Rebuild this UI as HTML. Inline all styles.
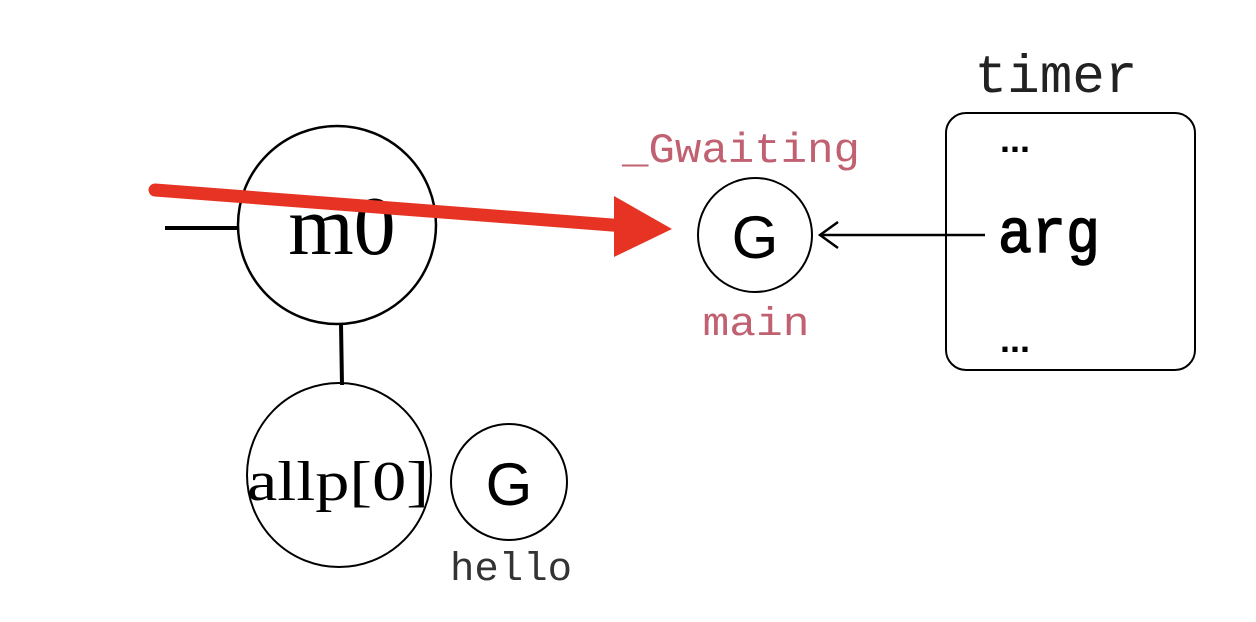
<!DOCTYPE html>
<html><head><style>html,body{margin:0;padding:0;background:#fff;width:1256px;height:622px;overflow:hidden}</style></head>
<body>
<svg width="1256" height="622" xmlns="http://www.w3.org/2000/svg">
<line x1="165" y1="228" x2="237" y2="228" stroke="#000" stroke-width="4"/>
<circle cx="337" cy="225" r="99" fill="none" stroke="#000" stroke-width="2.5"/>
<text x="342" y="254" font-family="Liberation Serif, serif" font-size="84" text-anchor="middle">m0</text>
<line x1="341" y1="324" x2="342" y2="385" stroke="#000" stroke-width="4"/>
<circle cx="339" cy="475" r="92" fill="none" stroke="#000" stroke-width="2"/>
<text x="338" y="500" font-family="Liberation Serif, serif" font-size="56" text-anchor="middle" textLength="182" lengthAdjust="spacingAndGlyphs">allp[0]</text>
<circle cx="509" cy="482" r="58" fill="none" stroke="#000" stroke-width="2"/>
<text x="509" y="505" font-family="Liberation Sans, sans-serif" font-size="60" text-anchor="middle">G</text>
<text x="511" y="580" font-family="Liberation Mono, monospace" font-size="40" fill="#333" text-anchor="middle" textLength="122" lengthAdjust="spacingAndGlyphs">hello</text>
<text x="741" y="162" font-family="Liberation Mono, monospace" font-size="42" fill="#c06070" text-anchor="middle" textLength="238" lengthAdjust="spacingAndGlyphs">_Gwaiting</text>
<circle cx="755" cy="235" r="57" fill="none" stroke="#000" stroke-width="2"/>
<text x="755" y="258" font-family="Liberation Sans, sans-serif" font-size="60" text-anchor="middle">G</text>
<text x="756" y="335" font-family="Liberation Mono, monospace" font-size="40" fill="#c06070" text-anchor="middle" textLength="107" lengthAdjust="spacingAndGlyphs">main</text>
<line x1="822" y1="235" x2="985" y2="235" stroke="#000" stroke-width="2.5"/>
<polyline points="838,222 820,235 838,248" fill="none" stroke="#000" stroke-width="2.5"/>
<rect x="946" y="113" width="249" height="257" rx="20" fill="none" stroke="#000" stroke-width="2"/>
<text x="1056" y="92" font-family="Liberation Mono, monospace" font-size="54" fill="#222" text-anchor="middle" textLength="163" lengthAdjust="spacingAndGlyphs">timer</text>
<text x="1015" y="152" font-family="Liberation Sans, sans-serif" font-size="36" font-weight="bold" text-anchor="middle">...</text>
<text x="1049" y="252" font-family="Liberation Mono, monospace" font-size="62" text-anchor="middle" stroke="#000" stroke-width="1.5" textLength="102" lengthAdjust="spacingAndGlyphs">arg</text>
<text x="1015" y="352" font-family="Liberation Sans, sans-serif" font-size="36" font-weight="bold" text-anchor="middle">...</text>
<line x1="155" y1="190" x2="625" y2="226" stroke="#e63323" stroke-width="13" stroke-linecap="round"/>
<polygon points="614,196 672,229 614,257" fill="#e63323"/>
</svg>
</body></html>
